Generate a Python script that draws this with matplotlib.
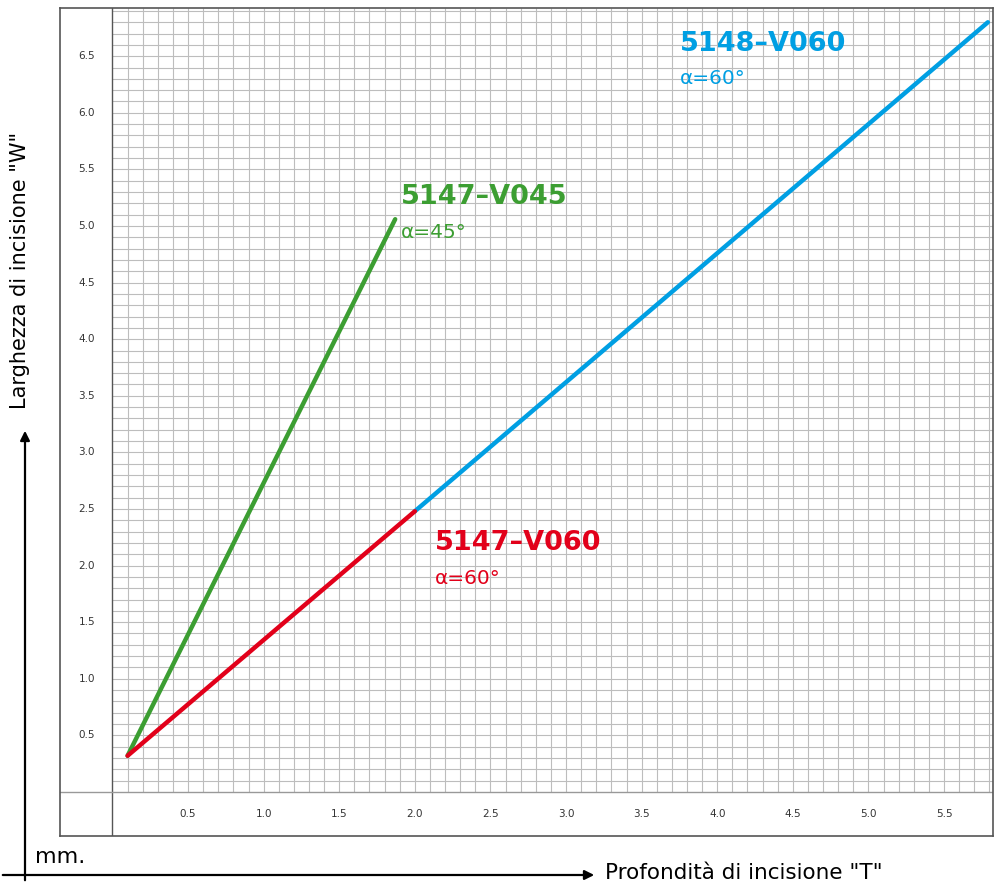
import numpy as np
import matplotlib.pyplot as plt
from matplotlib.patches import FancyArrowPatch

# dati (mm)
verde_x = [0.10, 1.87]
verde_y = [0.32, 5.06]
rosso_x = [0.10, 2.00]
rosso_y = [0.32, 2.48]
blu_x = [2.00, 5.79]
blu_y = [2.48, 6.80]

tick_x = [0.5, 1.0, 1.5, 2.0, 2.5, 3.0, 3.5, 4.0, 4.5, 5.0, 5.5]
tick_y = [0.5, 1.0, 1.5, 2.0, 2.5, 3.0, 3.5, 4.0, 4.5, 5.0, 5.5, 6.0, 6.5]

nomi = ["5147–V045", "5147–V060", "5148–V060"]
angoli = ["α=45°", "α=60°", "α=60°"]

VERDE = "#3c9e32"
ROSSO = "#e2001a"
BLU = "#009fe3"

W, H = 997, 883
fig = plt.figure(figsize=(W / 100, H / 100), dpi=100)
ax = fig.add_axes([60 / W, 1 - 836 / H, (993 - 60) / W, (836 - 8) / H])

x0, x1 = -0.347, 5.824
y0, y1 = -0.389, 6.926
ax.set_xlim(x0, x1)
ax.set_ylim(y0, y1)
ax.set_xticks([])
ax.set_yticks([])
for s in ax.spines.values():
    s.set_color("#555555")
    s.set_linewidth(1.2)

# griglia millimetrata
gx = np.arange(0.1, x1, 0.1)
gy = np.arange(0.1, y1, 0.1)
ax.vlines(gx, 0, y1, color="#bdbdbd", lw=0.8, zorder=1)
ax.hlines(gy, 0, x1, color="#bdbdbd", lw=0.8, zorder=1)
ax.axvline(0, color="#555555", lw=1.0, zorder=2)
ax.axhline(0, color="#999999", lw=1.0, zorder=2)

# etichette assi interne
for t in tick_x:
    ax.text(t, -0.194, f"{t:.1f}", ha="center", va="center", fontsize=7.5, color="#333333")
for t in tick_y:
    ax.text(-0.17, t, f"{t:.1f}", ha="center", va="center", fontsize=7.5, color="#333333")

# linee
ax.plot(verde_x, verde_y, color=VERDE, lw=3.2, solid_capstyle="round", zorder=4)
ax.plot(rosso_x, rosso_y, color=ROSSO, lw=3.2, solid_capstyle="round", zorder=4)
ax.plot(blu_x, blu_y, color=BLU, lw=3.2, solid_capstyle="round", zorder=3)

# etichette delle serie
pos = [(1.908, 5.256, 4.94, VERDE), (2.133, 2.20, 1.89, ROSSO), (3.753, 6.61, 6.30, BLU)]
for nome, ang, (px, py1, py2, c) in zip(nomi, angoli, pos):
    ax.text(px, py1, nome, color=c, fontsize=19.5, fontweight="bold", ha="left", va="center", zorder=5)
    ax.text(px, py2, ang, color=c, fontsize=14.5, ha="left", va="center", zorder=5)

# frecce esterne
fig.add_artist(FancyArrowPatch((0.0, 1 - 875 / H), (597 / W, 1 - 875 / H),
                               transform=fig.transFigure, arrowstyle="-|>",
                               mutation_scale=14, color="black", lw=1.6))
fig.add_artist(FancyArrowPatch((25 / W, 0.0), (25 / W, 1 - 428 / H),
                               transform=fig.transFigure, arrowstyle="-|>",
                               mutation_scale=14, color="black", lw=1.6))

fig.text(35 / W, 1 - 857 / H, "mm.", fontsize=16, ha="left", va="center")
fig.text(605 / W, 1 - 873 / H, 'Profondità di incisione "T"', fontsize=15.5, ha="left", va="center")
fig.text(20 / W, 1 - 270 / H, 'Larghezza di incisione "W"', fontsize=15, ha="center",
         va="center", rotation=90)

fig.savefig("out.png", dpi=100)
